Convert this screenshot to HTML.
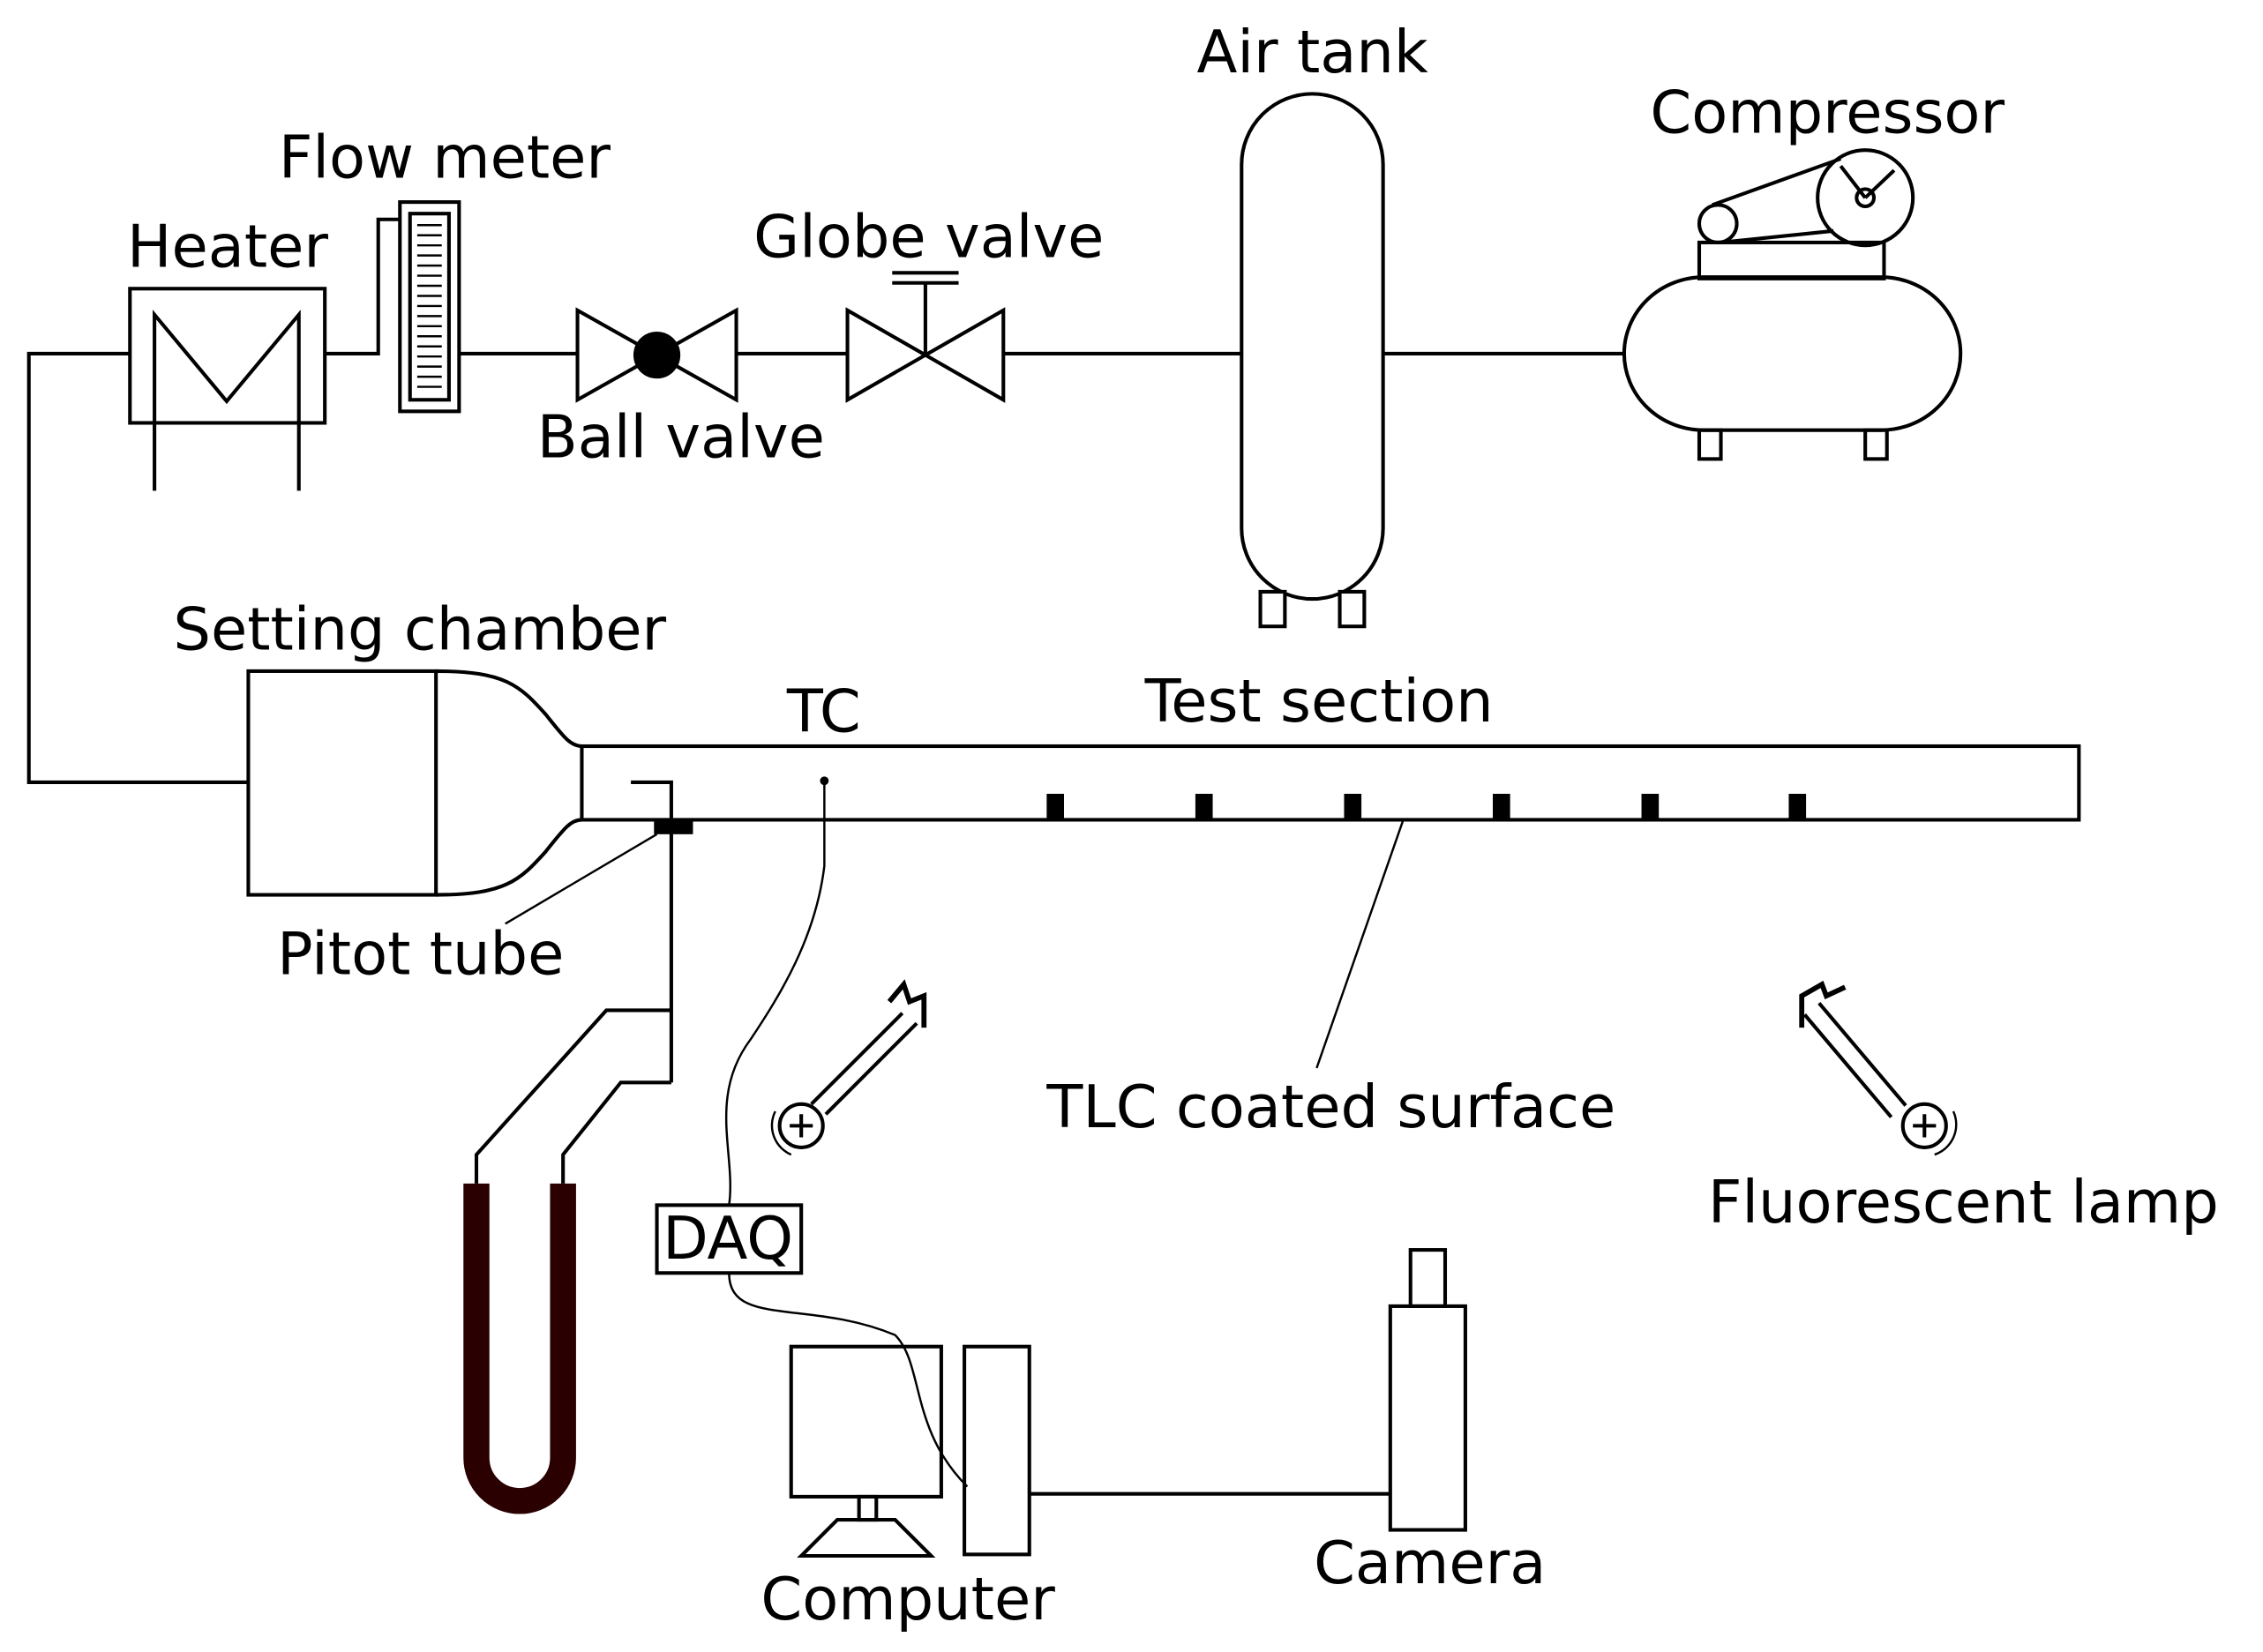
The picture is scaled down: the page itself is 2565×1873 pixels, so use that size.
<!DOCTYPE html>
<html><head><meta charset="utf-8"><style>html,body{margin:0;padding:0;background:#fff}svg{display:block}</style></head>
<body>
<svg width="2565" height="1873" viewBox="0 0 1567.5 1144.6" xmlns="http://www.w3.org/2000/svg">
<g fill="none" stroke="#000" stroke-width="2.5">
<path d="M172,542 H20 V245 H90 M225,245 H262 V152 H277 M318,245 H400 M510,245 H587 M695,245 H860 M958,245 H1125"/>
<rect x="90" y="200" width="135" height="93"/>
<path d="M107,340 V218 L157,278 L207,218 V340"/>
<rect x="277" y="140" width="41" height="145"/>
<rect x="284" y="148" width="27" height="129"/>
<g stroke-width="1.5">
<path d="M289,156H306M289,163H306M289,170H306M289,177H306M289,184H306M289,191H306M289,198H306M289,205H306M289,212H306M289,219H306M289,226H306M289,233H306M289,240H306M289,247H306M289,254H306M289,261H306M289,268H306"/>
</g>
<path d="M400,215 L400,277 L455,246 Z M510,215 L510,277 L455,246 Z"/>
<circle cx="455" cy="246" r="15" fill="#000"/>
<path d="M587,215 L587,277 L641,246 Z M695,215 L695,277 L641,246 Z M641,246 V196 M618,189 H664 M618,196 H664"/>
<rect x="860" y="65" width="98" height="350" rx="49"/>
<rect x="873" y="410" width="17" height="24" fill="#fff"/>
<rect x="928" y="410" width="17" height="24" fill="#fff"/>
<rect x="1177" y="298" width="15" height="20"/>
<rect x="1292" y="298" width="15" height="20"/>
<rect x="1125" y="192" width="233" height="106" rx="55"/>
<rect x="1177" y="168" width="128" height="25"/>
<circle cx="1190" cy="155" r="13"/>
<circle cx="1292" cy="137" r="33"/>
<circle cx="1292" cy="137" r="6"/>
<path d="M1186,142 L1275,110 M1192,168 L1270,160 M1292,137 L1275,115 M1292,137 L1312,118"/>
<rect x="172" y="465" width="130" height="155"/>
<path d="M302,465 C350,465 360,475 378,495 C390,510 395,517 403,517 M302,620 C350,620 360,610 378,590 C390,575 395,568 403,568"/>
<rect x="403" y="517" width="1037" height="51"/>
<path d="M437,542 H465 V750 M465,700 H420 L330,800 V820 M465,750 H430 L390,800 V820"/>
<path d="M350,640 L455,578" stroke-width="1.5"/>
<path d="M330,820 V1010 A30,30 0 0 0 390,1010 V820" stroke="#2a0000" stroke-width="18"/>
<path d="M571,541 V600 C565,650 540,690 520,720 C490,760 510,800 505,835 M505,882 C505,920 560,900 620,925 C640,945 630,990 670,1030" stroke-width="1.5"/>
<rect x="455" y="835" width="100" height="47"/>
<path d="M972,568 L912,740" stroke-width="1.5"/>
<circle cx="555" cy="780" r="15"/>
<path d="M547,780 H563 M555,772 V788"/>
<path d="M537,770 A22,22 0 0 0 548,800" stroke-width="1.5"/>
<path d="M562,765 L625,702 M572,772 L635,709"/>
<path d="M616,694 L626,682 L630,694 L640,690 L640,712" stroke-width="3.5"/>
<circle cx="1333" cy="780" r="15"/>
<path d="M1325,780 H1341 M1333,772 V788"/>
<path d="M1353,770 A22,22 0 0 1 1340,800" stroke-width="1.5"/>
<path d="M1320,766 L1260,695 M1310,774 L1250,703"/>
<path d="M1248,712 L1248,690 L1262,682 L1265,690 L1278,684" stroke-width="3.5"/>
<rect x="548" y="933" width="104" height="104"/>
<rect x="595" y="1037" width="12" height="16"/>
<path d="M580,1053 H620 L645,1078 H555 Z"/>
<rect x="668" y="933" width="45" height="144"/>
<path d="M713,1035 H963"/>
<rect x="963" y="905" width="52" height="155"/>
<rect x="977" y="866" width="24" height="39"/>
</g>
<g fill="#000" stroke="none">
<rect x="453" y="568" width="27" height="10"/>
<rect x="725" y="550" width="12" height="18"/>
<rect x="828" y="550" width="12" height="18"/>
<rect x="931" y="550" width="12" height="18"/>
<rect x="1034" y="550" width="12" height="18"/>
<rect x="1137" y="550" width="12" height="18"/>
<rect x="1239" y="550" width="12" height="18"/>
<circle cx="571" cy="541" r="3"/>
</g>
<g font-family="DejaVu Sans, Liberation Sans, sans-serif" font-size="41" fill="#000">
<text x="829" y="50">Air tank</text>
<text x="1143" y="92">Compressor</text>
<text x="193" y="123">Flow meter</text>
<text x="88" y="185">Heater</text>
<text x="522" y="178">Globe valve</text>
<text x="372" y="317">Ball valve</text>
<text x="120" y="450">Setting chamber</text>
<text x="545" y="507">TC</text>
<text x="793" y="500">Test section</text>
<text x="192" y="675">Pitot tube</text>
<text x="725" y="781">TLC coated surface</text>
<text x="1183" y="847">Fluorescent lamp</text>
<text x="459" y="872">DAQ</text>
<text x="910" y="1097">Camera</text>
<text x="527" y="1122">Computer</text>
</g>
</svg>
</body></html>
